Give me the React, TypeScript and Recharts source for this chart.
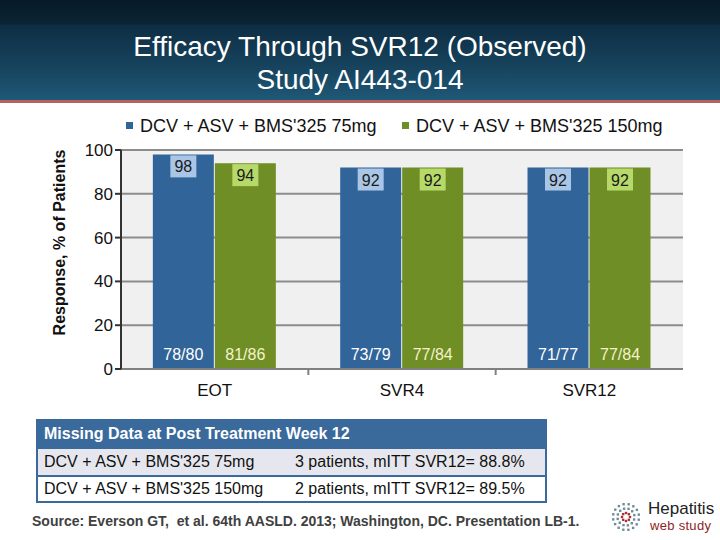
import { Bar, BarChart, CartesianGrid, Label, LabelList, XAxis, YAxis } from 'recharts';

const categories = ['EOT', 'SVR4', 'SVR12'];
const dose75 = [98, 92, 92];
const dose150 = [94, 92, 92];
const frac75 = ['78/80', '73/79', '71/77'];
const frac150 = ['81/86', '77/84', '77/84'];
const seriesNames = ["DCV + ASV + BMS'325 75mg", "DCV + ASV + BMS'325 150mg"];
const yTicks = [0, 20, 40, 60, 80, 100];

const tableTitle = 'Missing Data at Post Treatment Week 12';
const tableArms = ["DCV + ASV + BMS'325 75mg", "DCV + ASV + BMS'325 150mg"];
const tableMissing = ['3 patients, mITT SVR12= 88.8%', '2 patients, mITT SVR12= 89.5%'];

const BLUE = '#31659A';
const GREEN = '#6F8E26';
const BLUE_BOX = '#A9C6E6';
const GREEN_BOX = '#B6D96A';
const FONT = '"Liberation Sans", Arial, sans-serif';

const rows = categories.map((name, i) => ({
  name,
  d75: dose75[i],
  d150: dose150[i],
  f75: frac75[i],
  f150: frac150[i],
}));

function topBox(fill: string) {
  return (props: any) => {
    const { x, y, width, value } = props;
    const cx = Number(x) + Number(width) / 2;
    return (
      <g>
        <rect x={cx - 13} y={Number(y) + 1} width={26} height={22} fill={fill} />
        <text x={cx} y={Number(y) + 18} textAnchor="middle" fontSize={16} fill="#1a1a1a" fontFamily={FONT}>
          {value}
        </text>
      </g>
    );
  };
}

function bottomText(color: string) {
  return (props: any) => {
    const { x, y, width, height, value } = props;
    return (
      <text
        x={Number(x) + Number(width) / 2}
        y={Number(y) + Number(height) - 9}
        textAnchor="middle"
        fontSize={16}
        fill={color}
        fontFamily={FONT}
      >
        {value}
      </text>
    );
  };
}

function CategoryTick(props: any) {
  const { x, y, payload, index } = props;
  const half = payload?.offset ?? 0;
  return (
    <g>
      {index < categories.length - 1 && half > 0 && (
        <line x1={x + half} x2={x + half} y1={y - 8} y2={y - 2} stroke="#808080" strokeWidth={2} />
      )}
      <text x={x} y={y + 19} textAnchor="middle" fontSize={17} fill="#111" fontFamily={FONT}>
        {payload.value}
      </text>
    </g>
  );
}

function Logo() {
  const dots = [];
  for (let r = 0; r < 3; r++) {
    const n = 8 + r * 4;
    for (let k = 0; k < n; k++) {
      const a = (k / n) * Math.PI * 2 + r * 0.3;
      const rad = 4 + r * 4.5;
      dots.push(
        <rect
          key={`${r}-${k}`}
          x={14 + Math.cos(a) * rad - 1.2}
          y={14 + Math.sin(a) * rad - 1.2}
          width={2.4}
          height={2.4}
          fill={r === 0 ? '#a33' : '#6f8c99'}
        />,
      );
    }
  }
  return (
    <div style={{ position: 'absolute', left: 612, top: 500 }}>
      <svg width={30} height={30} style={{ position: 'absolute', left: 0, top: 3 }}>
        {dots}
      </svg>
      <div style={{ position: 'absolute', left: 36, top: 0, fontSize: 17, color: '#222', fontFamily: FONT, lineHeight: '18px' }}>
        Hepatitis
      </div>
      <div style={{ position: 'absolute', left: 38, top: 19, fontSize: 13, color: '#8f2323', fontFamily: FONT, letterSpacing: 0.3, lineHeight: '14px', whiteSpace: 'nowrap' }}>
        web study
      </div>
    </div>
  );
}

export default function App() {
  return (
    <div style={{ position: 'fixed', left: 0, top: 0, width: 720, height: 540, background: '#fff', overflow: 'hidden', fontFamily: FONT }}>
      <div
        style={{
          position: 'absolute',
          left: 0,
          top: 0,
          width: 720,
          height: 100,
          background: 'linear-gradient(to bottom, #071a27 0%, #0a2433 24%, #0e2e44 25%, #16425c 65%, #1f5876 100%)',
        }}
      />
      <div style={{ position: 'absolute', left: 0, top: 100, width: 720, height: 3, background: '#b3625d' }} />
      <div style={{ position: 'absolute', left: 0, top: 30, width: 720, textAlign: 'center', color: '#fff', fontSize: 28, lineHeight: '33px' }}>
        Efficacy Through SVR12 (Observed)
        <br />
        Study AI443-014
      </div>

      <div style={{ position: 'absolute', left: 126, top: 116, fontSize: 18, color: '#111', whiteSpace: 'nowrap' }}>
        {seriesNames.map((n, i) => (
          <span key={n} style={{ position: 'absolute', left: i === 0 ? 0 : 276, top: 0 }}>
            <span style={{ display: 'inline-block', width: 7, height: 7, background: i === 0 ? BLUE : GREEN, marginRight: 7, verticalAlign: 'middle', position: 'relative', top: -2 }} />
            {n}
          </span>
        ))}
      </div>

      <div style={{ position: 'absolute', left: 0, top: 0 }}>
        <BarChart
          width={720}
          height={410}
          data={rows}
          margin={{ top: 150, right: 37, left: 81, bottom: 11 }}
          barCategoryGap="17%"
          barGap={1}
        >
          <CartesianGrid fill="#F0F0F0" stroke="#8C8C8C" strokeWidth={2} vertical={false} horizontalValues={yTicks} />
          <XAxis
            dataKey="name"
            height={30}
            axisLine={{ stroke: '#808080', strokeWidth: 2 }}
            tickLine={false}
            tick={<CategoryTick />}
            interval={0}
          />
          <YAxis
            width={40}
            domain={[0, 100]}
            ticks={yTicks}
            axisLine={{ stroke: '#333', strokeWidth: 2 }}
            tickLine={{ stroke: '#333', strokeWidth: 2 }}
            tickSize={6}
            tick={{ fontSize: 17, fill: '#111', fontFamily: FONT }}
          >
            <Label
              content={(p: any) => {
                const vb = p.viewBox || {};
                const cx = vb.x - 16;
                const cy = vb.y + vb.height / 2 - 17;
                return (
                  <text x={cx} y={cy} transform={`rotate(-90 ${cx} ${cy})`} textAnchor="middle" fontSize={16} fontWeight="bold" fill="#111" fontFamily={FONT}>
                    Response, % of Patients
                  </text>
                );
              }}
            />
          </YAxis>
          <Bar dataKey="d75" fill={BLUE} isAnimationActive={false}>
            <LabelList dataKey="d75" content={topBox(BLUE_BOX)} />
            <LabelList dataKey="f75" content={bottomText('#ffffff')} />
          </Bar>
          <Bar dataKey="d150" fill={GREEN} isAnimationActive={false}>
            <LabelList dataKey="d150" content={topBox(GREEN_BOX)} />
            <LabelList dataKey="f150" content={bottomText('#F4F3C8')} />
          </Bar>
        </BarChart>
      </div>

      <table
        style={{
          position: 'absolute',
          left: 36,
          top: 419,
          width: 511,
          borderCollapse: 'collapse',
          border: '2px solid #3A6A9C',
          fontSize: 16,
          color: '#111',
        }}
      >
        <tbody>
          <tr style={{ background: '#3A6A9C', height: 28 }}>
            <td colSpan={2} style={{ color: '#fff', fontWeight: 'bold', fontSize: 16, padding: '0 6px' }}>
              {tableTitle}
            </td>
          </tr>
          {tableArms.map((arm, i) => (
            <tr key={arm} style={{ background: i === 0 ? '#E6E7EE' : '#fff', height: i === 0 ? 28 : 26, borderTop: '2px solid #3A6A9C' }}>
              <td style={{ padding: '0 6px', width: 239, whiteSpace: 'nowrap' }}>{arm}</td>
              <td style={{ padding: '0 6px', whiteSpace: 'nowrap' }}>{tableMissing[i]}</td>
            </tr>
          ))}
        </tbody>
      </table>

      <div style={{ position: 'absolute', left: 32, top: 513, fontSize: 14, fontWeight: 'bold', color: '#404040', whiteSpace: 'nowrap' }}>
        Source: Everson GT,&nbsp; et al. 64th AASLD. 2013; Washington, DC. Presentation LB-1.
      </div>
      <Logo />
    </div>
  );
}
